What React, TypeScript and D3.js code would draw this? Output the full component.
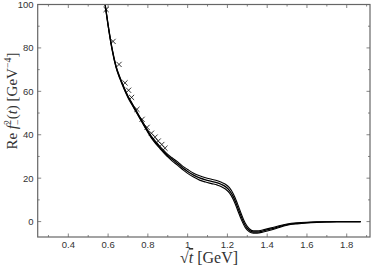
import * as d3 from "d3";

// sqrt(t) grid [GeV] shared by the three curves
const sqrtT = [0.585, 0.6, 0.62, 0.64, 0.66, 0.68, 0.7, 0.72, 0.74, 0.76, 0.78, 0.8, 0.82, 0.84, 0.86, 0.88, 0.9, 0.92, 0.95, 0.98, 1.0, 1.03, 1.06, 1.09, 1.12, 1.15, 1.17, 1.19, 1.21, 1.23, 1.25, 1.27, 1.29, 1.31, 1.33, 1.35, 1.38, 1.42, 1.46, 1.5, 1.55, 1.6, 1.65, 1.7, 1.75, 1.8, 1.87];

const central = [100, 90.5, 79.5, 71.3, 66, 61.5, 57.5, 54.2, 51, 47.8, 44.6, 41.5, 38.6, 36.3, 34.2, 32.2, 30.4, 28.8, 26.7, 24.4, 23.1, 21.4, 20.1, 19.2, 18.5, 17.8, 17.1, 16.1, 14.4, 11.4, 7, 2.2, -1.8, -4.0, -4.8, -4.8, -4.3, -3.4, -2.3, -1.4, -0.8, -0.45, -0.25, -0.12, -0.06, -0.03, -0.01];
const upper = [100.3, 90.9, 79.9, 71.7, 66.4, 61.9, 57.9, 54.6, 51.4, 48.2, 45, 41.9, 39, 36.8, 34.7, 32.8, 31, 29.5, 27.5, 25.2, 24, 22.3, 21.1, 20.2, 19.5, 18.8, 18.1, 17.2, 15.6, 12.7, 8.4, 3.5, -0.8, -3.3, -4.3, -4.3, -3.8, -2.9, -1.9, -1.1, -0.55, -0.28, -0.14, -0.07, -0.03, -0.01, 0];
const lower = [99.7, 90.1, 79.1, 70.9, 65.6, 61.1, 57.1, 53.8, 50.6, 47.4, 44.2, 41.1, 38.2, 35.8, 33.7, 31.6, 29.8, 28.1, 25.9, 23.6, 22.2, 20.5, 19.1, 18.2, 17.5, 16.8, 16.1, 15, 13.2, 10.1, 5.6, 0.9, -2.8, -4.7, -5.3, -5.3, -4.8, -3.9, -2.7, -1.7, -1.05, -0.62, -0.36, -0.19, -0.1, -0.05, -0.02];

// data points (crosses)
const crossT = [0.59, 0.625, 0.655, 0.685, 0.703, 0.718, 0.745, 0.771, 0.796, 0.818, 0.836, 0.852, 0.87, 0.886];
const crossV = [97.7, 83.0, 72.4, 63.9, 60.5, 57.2, 51.7, 47.1, 43.4, 40.7, 38.9, 37.1, 35.5, 33.8];

const xMajor = [0.4, 0.6, 0.8, 1.0, 1.2, 1.4, 1.6, 1.8];
const xMinor = [0.3, 0.5, 0.7, 0.9, 1.1, 1.3, 1.5, 1.7, 1.9];
const yMajor = [0, 20, 40, 60, 80, 100];
const yMinor = [10, 30, 50, 70, 90];

const width = 371;
const height = 271;
const left = 37.7, right = 370, top = 4.5, bottom = 237;

export default function App() {
  const x = d3.scaleLinear().domain([0.246, 1.917]).range([left, right]);
  const y = d3.scaleLinear().domain([-7.1, 100]).range([bottom, top]);

  const line = d3.line<number>()
    .x((_, i) => x(sqrtT[i]))
    .y(d => y(d))
    .curve(d3.curveMonotoneX);

  const frame = "#666";
  const tickFont = "'Liberation Sans', Arial, sans-serif";
  const mathFont = "'Liberation Serif', 'DejaVu Serif', serif";

  return (
    <svg width={width} height={height} style={{ position: "absolute", left: 0, top: 0, background: "#fff" }}>
      <defs>
        <clipPath id="plot">
          <rect x={left} y={top} width={right - left} height={bottom - top} />
        </clipPath>
      </defs>

      {/* ticks on all four sides, pointing inward */}
      <g stroke={frame} strokeWidth={0.8}>
        {xMajor.map(t => (
          <g key={"xM" + t}>
            <line x1={x(t)} x2={x(t)} y1={bottom} y2={bottom - 3.5} />
            <line x1={x(t)} x2={x(t)} y1={top} y2={top + 3.5} />
          </g>
        ))}
        {xMinor.filter(t => x(t) < right).map(t => (
          <g key={"xm" + t}>
            <line x1={x(t)} x2={x(t)} y1={bottom} y2={bottom - 2} />
            <line x1={x(t)} x2={x(t)} y1={top} y2={top + 2} />
          </g>
        ))}
        {yMajor.map(v => (
          <g key={"yM" + v}>
            <line x1={left} x2={left + 3.5} y1={y(v)} y2={y(v)} />
            <line x1={right} x2={right - 3.5} y1={y(v)} y2={y(v)} />
          </g>
        ))}
        {yMinor.map(v => (
          <g key={"ym" + v}>
            <line x1={left} x2={left + 2} y1={y(v)} y2={y(v)} />
            <line x1={right} x2={right - 2} y1={y(v)} y2={y(v)} />
          </g>
        ))}
      </g>

      {/* curves */}
      <g clipPath="url(#plot)" fill="none" stroke="#000">
        <path d={line(upper) || ""} strokeWidth={1.1} />
        <path d={line(lower) || ""} strokeWidth={1.1} />
        <path d={line(central) || ""} strokeWidth={1.3} />
      </g>

      {/* crosses */}
      <g stroke="#000" strokeWidth={0.8}>
        {crossT.map((t, i) => {
          const cx = x(t), cy = y(crossV[i]), r = 2.6;
          return (
            <path key={"c" + i} d={`M${cx - r},${cy - r}L${cx + r},${cy + r}M${cx - r},${cy + r}L${cx + r},${cy - r}`} />
          );
        })}
      </g>

      {/* frame */}
      <rect x={left} y={top} width={right - left} height={bottom - top} fill="none" stroke={frame} strokeWidth={1.2} />

      {/* tick labels */}
      <g fontFamily={tickFont} fontSize={9.5} fill="#333">
        {xMajor.map(t => (
          <text key={"xl" + t} x={x(t)} y={248} textAnchor="middle">{t === 1 ? "1" : String(t)}</text>
        ))}
        {yMajor.map(v => (
          <text key={"yl" + v} x={33.5} y={y(v) + 3.4} textAnchor="end">{v}</text>
        ))}
      </g>

      {/* axis titles */}
      <text x={0} y={0} fontFamily={mathFont} fontSize={15} fill="#333" textAnchor="middle"
        transform={`translate(16.5,${101}) rotate(-90)`}>
        <tspan>Re </tspan>
        <tspan fontStyle="italic">f</tspan>
        <tspan fontSize={10} dy={-6}>2</tspan>
        <tspan fontSize={10} dx={-5} dy={10}>−</tspan>
        <tspan dy={-4}>(</tspan>
        <tspan fontStyle="italic">t</tspan>
        <tspan>)  [GeV</tspan>
        <tspan fontSize={10} dy={-6}>−4</tspan>
        <tspan dy={6}>]</tspan>
      </text>

      <g fontFamily={mathFont} fontSize={16} fill="#333">
        <text x={209} y={263} textAnchor="middle">
          <tspan>√</tspan>
          <tspan fontStyle="italic" textDecoration="overline">t</tspan>
          <tspan>  [GeV]</tspan>
        </text>
      </g>
    </svg>
  );
}
